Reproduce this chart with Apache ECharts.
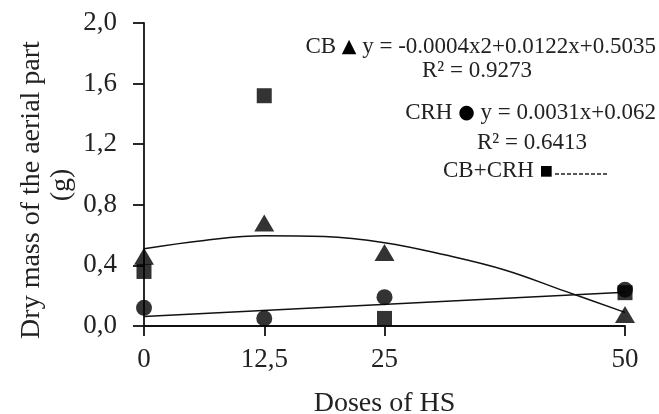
<!DOCTYPE html>
<html><head><meta charset="utf-8">
<script src="https://cdn.jsdelivr.net/npm/echarts@6/dist/echarts.min.js"></script>
<style>html,body{margin:0;padding:0;background:#fff}#c{width:659px;height:414px}</style>
</head><body><div id="c"></div>
<script>
const doses = [0, 12.5, 25, 50];
const cbValues = [0.46, 0.68, 0.485, 0.076];
const crhValues = [0.12, 0.05, 0.19, 0.24];
const mixValues = [0.36, 1.52, 0.05, 0.22];
// trend lines
const cbTrendX = [0, 6.25, 12.5, 18.75, 25, 31.25, 37.5, 43.75, 50];
const cbTrendY = [0.51, 0.565, 0.595, 0.59, 0.55, 0.47, 0.37, 0.23, 0.09];
const crhTrendX = [0, 50];
const crhTrendY = [0.062, 0.222];
const xTicks = [0, 12.5, 25, 50];

const pair = (xs, ys) => xs.map((x, i) => [x, ys[i]]);
const font = '"Liberation Serif", "Times New Roman", serif';
const rich = {
  s: {fontSize: 19, fontFamily: '"DejaVu Sans", sans-serif', fill: '#000'},
  q: {fontSize: 14, fontFamily: '"DejaVu Sans", sans-serif', fill: '#000'},
  t: {fontSize: 23, fontFamily: font}
};
const chart = echarts.init(document.getElementById('c'));
chart.setOption({
  animation: false,
  grid: {left: 144, right: 34, top: 23, bottom: 88, outerBoundsMode: 'none', containLabel: false},
  xAxis: {
    type: 'value', min: 0, max: 50,
    axisLine: {show: true, lineStyle: {color: '#111', width: 1.8}},
    axisTick: {show: true, length: 10, customValues: xTicks, lineStyle: {color: '#111', width: 1.8}},
    axisLabel: {customValues: xTicks, color: '#222', fontFamily: font, fontSize: 27, margin: 20,
      formatter: v => String(v).replace('.', ',')},
    splitLine: {show: false},
    name: 'Doses of HS', nameLocation: 'middle', nameGap: 64,
    nameTextStyle: {color: '#222', fontFamily: font, fontSize: 28}
  },
  yAxis: {
    type: 'value', min: 0, max: 2, interval: 0.4,
    axisLine: {show: true, lineStyle: {color: '#111', width: 1.8}},
    axisTick: {show: true, length: 11, lineStyle: {color: '#111', width: 1.8}},
    axisLabel: {color: '#222', fontFamily: font, fontSize: 27, margin: 27,
      formatter: v => v.toFixed(1).replace('.', ',')},
    splitLine: {show: false}
  },
  series: [
    {type: 'line', data: pair(cbTrendX, cbTrendY), smooth: 0.4, symbol: 'none', lineStyle: {color: '#111', width: 1.5}, z: 1},
    {type: 'line', data: pair(crhTrendX, crhTrendY), symbol: 'none', lineStyle: {color: '#111', width: 1.5}, z: 1},
    {type: 'scatter', data: pair(doses, mixValues), symbol: 'rect', symbolSize: 15, itemStyle: {color: '#000'}, z: 3},
    {type: 'scatter', data: pair(doses, crhValues), symbol: 'circle', symbolSize: 16, itemStyle: {color: '#000'}, z: 3},
    {type: 'scatter', data: pair(doses, cbValues), symbol: 'triangle', symbolSize: [20, 17], itemStyle: {color: '#000'}, z: 3}
  ],
  graphic: [
    {type: 'text', x: 32, y: 190, rotation: Math.PI / 2,
      style: {text: 'Dry mass of the aerial part', font: '28px ' + font, fill: '#222', align: 'center', verticalAlign: 'middle'}},
    {type: 'text', x: 62, y: 185, rotation: Math.PI / 2,
      style: {text: '(g)', font: '28px ' + font, fill: '#222', align: 'center', verticalAlign: 'middle'}},
    {type: 'text', x: 656, y: 47, style: {text: '{t|CB }{s|▲}{t| y = -0.0004x2+0.0122x+0.5035}', rich, fill: '#222', align: 'right', verticalAlign: 'middle'}},
    {type: 'text', x: 477, y: 71, style: {text: 'R² = 0.9273', font: '23px ' + font, fill: '#222', align: 'center', verticalAlign: 'middle'}},
    {type: 'text', x: 656, y: 113, style: {text: '{t|CRH }{s|●}{t| y = 0.0031x+0.062}', rich, fill: '#222', align: 'right', verticalAlign: 'middle'}},
    {type: 'text', x: 532, y: 143, style: {text: 'R² = 0.6413', font: '23px ' + font, fill: '#222', align: 'center', verticalAlign: 'middle'}},
    {type: 'text', x: 443, y: 171, style: {text: '{t|CB+CRH }{q|■}', rich, fill: '#222', align: 'left', verticalAlign: 'middle'}},
    {type: 'line', shape: {x1: 555, y1: 174, x2: 607, y2: 174}, style: {stroke: '#222', lineWidth: 1.5, lineDash: [4, 2]}}
  ]
});
</script></body></html>
